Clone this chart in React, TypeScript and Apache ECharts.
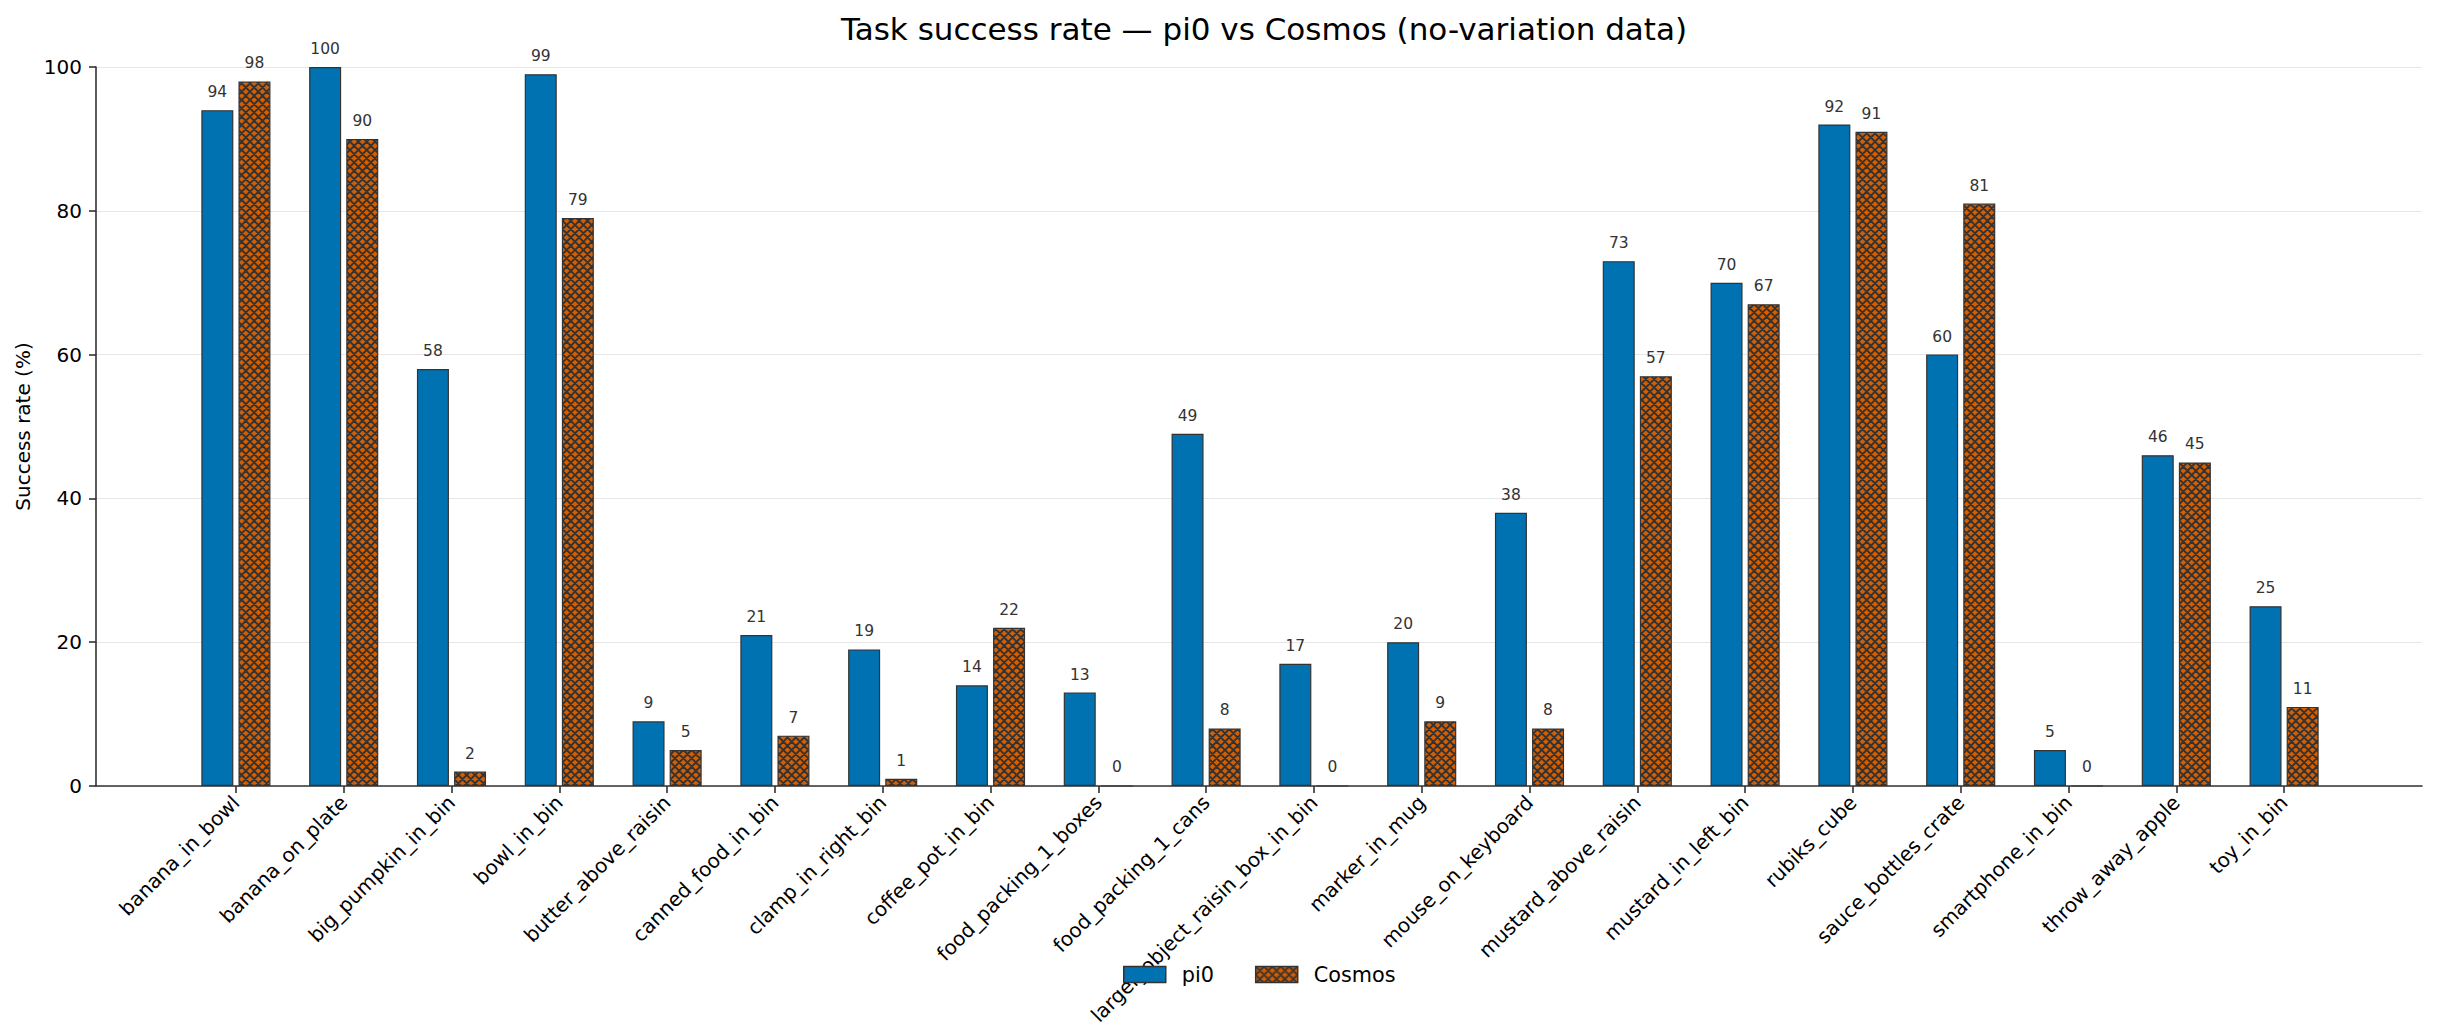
import { useEffect, useRef } from "react";
import * as echarts from "echarts";

const categories = [
  "banana_in_bowl",
  "banana_on_plate",
  "big_pumpkin_in_bin",
  "bowl_in_bin",
  "butter_above_raisin",
  "canned_food_in_bin",
  "clamp_in_right_bin",
  "coffee_pot_in_bin",
  "food_packing_1_boxes",
  "food_packing_1_cans",
  "larger_object_raisin_box_in_bin",
  "marker_in_mug",
  "mouse_on_keyboard",
  "mustard_above_raisin",
  "mustard_in_left_bin",
  "rubiks_cube",
  "sauce_bottles_crate",
  "smartphone_in_bin",
  "throw_away_apple",
  "toy_in_bin",
];

const pi0Values = [94, 100, 58, 99, 9, 21, 19, 14, 13, 49, 17, 20, 38, 73, 70, 92, 60, 5, 46, 25];
const cosmosValues = [98, 90, 2, 79, 5, 7, 1, 22, 0, 8, 0, 9, 8, 57, 67, 91, 81, 0, 45, 11];

const yTicks = [0, 20, 40, 60, 80, 100];

const AXIS = "#333";
const FONT = "DejaVu Sans";

// crosshatch tile, like matplotlib's "xxx"
function makeHatch(): HTMLCanvasElement {
  const size = 25;
  const c = document.createElement("canvas");
  c.width = size;
  c.height = size;
  const ctx = c.getContext("2d")!;
  ctx.fillStyle = "#D55E00";
  ctx.fillRect(0, 0, size, size);
  ctx.strokeStyle = "#333";
  ctx.lineWidth = 1.9;
  const step = size / 3;
  ctx.beginPath();
  for (let k = -4; k <= 7; k++) {
    const o = k * step;
    ctx.moveTo(o - 2, -2);
    ctx.lineTo(o + size + 2, size + 2);
    ctx.moveTo(o + 2, -2);
    ctx.lineTo(o - size - 2, size + 2);
  }
  ctx.stroke();
  return c;
}

function buildOption(): echarts.EChartsOption {
  const hatch = makeHatch();
  const lineStyle = { color: AXIS, width: 1.6 };
  const barLabel = {
    show: true,
    position: "top" as const,
    distance: 10,
    fontSize: 15.5,
    color: "#333",
    fontFamily: FONT,
  };
  return {
    animation: false,
    backgroundColor: "#fff",
    textStyle: { fontFamily: FONT },
    title: {
      text: "Task success rate — pi0 vs Cosmos (no-variation data)",
      left: 1259,
      top: 8,
      textAlign: "center",
      textStyle: { fontSize: 31, fontWeight: "normal", color: "#000", fontFamily: FONT },
    },
    legend: {
      data: ["pi0", "Cosmos"],
      left: 1118,
      top: 959,
      icon: "rect",
      itemWidth: 42,
      itemHeight: 16,
      itemGap: 41,
      itemStyle: { borderColor: "#333", borderWidth: 1.5 },
      textStyle: { fontSize: 20.8, color: "#000", fontFamily: FONT, padding: [0, 0, 0, 11] },
    },
    grid: [
      { left: 96, right: 15, top: 67, bottom: 250 },
      { left: 182, right: 99, top: 67, bottom: 250 },
    ],
    xAxis: [
      {
        gridIndex: 0,
        type: "value",
        min: 0,
        max: 1,
        axisLine: { show: true, onZero: false, lineStyle },
        axisTick: { show: false },
        axisLabel: { show: false },
        splitLine: { show: false },
      },
      {
        gridIndex: 1,
        type: "category",
        data: categories,
        axisLine: { show: false },
        axisTick: { show: true, alignWithLabel: true, interval: 0, length: 7, lineStyle },
        axisLabel: { interval: 0, rotate: 45, fontSize: 20, color: "#000", margin: 13, fontFamily: FONT },
        splitLine: { show: false },
      },
    ],
    yAxis: [
      {
        gridIndex: 0,
        type: "value",
        min: yTicks[0],
        max: yTicks[yTicks.length - 1],
        interval: 20,
        name: "Success rate (%)",
        nameLocation: "middle",
        nameGap: 63,
        nameTextStyle: { fontSize: 20, color: "#000", fontFamily: FONT },
        axisLine: { show: true, lineStyle },
        axisTick: { show: true, length: 7, lineStyle },
        axisLabel: { fontSize: 20, color: "#000", margin: 14, fontFamily: FONT },
        splitLine: { show: true, lineStyle: { color: "#e6e6e6", width: 1 } },
      },
      {
        gridIndex: 1,
        type: "value",
        min: yTicks[0],
        max: yTicks[yTicks.length - 1],
        show: false,
      },
    ],
    series: [
      {
        name: "pi0",
        type: "bar",
        xAxisIndex: 1,
        yAxisIndex: 1,
        data: pi0Values,
        barWidth: 32,
        barGap: "16%",
        itemStyle: { color: "#0072B2", borderColor: "#333", borderWidth: 1.2 },
        label: barLabel,
      },
      {
        name: "Cosmos",
        type: "bar",
        xAxisIndex: 1,
        yAxisIndex: 1,
        data: cosmosValues,
        barWidth: 32,
        barGap: "16%",
        itemStyle: {
          color: { image: hatch, repeat: "repeat" } as any,
          borderColor: "#333",
          borderWidth: 1.2,
        },
        label: barLabel,
      },
    ],
  };
}

export default function App() {
  const chartRef = useRef<HTMLDivElement>(null);

  useEffect(() => {
    if (!chartRef.current) return;
    const chart = echarts.init(chartRef.current, undefined, { renderer: "svg" });
    chart.setOption(buildOption());
    return () => chart.dispose();
  }, []);

  return (
    <div
      ref={chartRef}
      style={{ position: "absolute", left: 0, top: 0, width: 2437, height: 1036 }}
    />
  );
}
